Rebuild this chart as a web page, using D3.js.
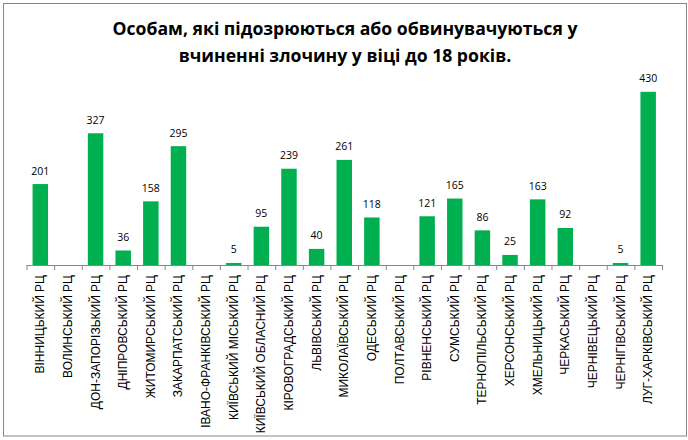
<!DOCTYPE html>
<html>
<head>
<meta charset="utf-8">
<script src="https://cdn.jsdelivr.net/npm/d3@7"></script>
<style>
  body { margin: 0; background: #fff; }
  svg { display: block; }
  .cat text { font-family: "Liberation Sans", Arial, sans-serif; }
</style>
</head>
<body>
<script>
const categories = [
  "ВІННИЦЬКИЙ РЦ", "ВОЛИНСЬКИЙ РЦ", "ДОН-ЗАПОРІЗЬКИЙ РЦ", "ДНІПРОВСЬКИЙ РЦ",
  "ЖИТОМИРСЬКИЙ РЦ", "ЗАКАРПАТСЬКИЙ РЦ", "ІВАНО-ФРАНКІВСЬКИЙ РЦ", "КИЇВСЬКИЙ МІСЬКИЙ РЦ",
  "КИЇВСЬКИЙ ОБЛАСНИЙ РЦ", "КІРОВОГРАДСЬКИЙ РЦ", "ЛЬВІВСЬКИЙ РЦ", "МИКОЛАЇВСЬКИЙ РЦ",
  "ОДЕСЬКИЙ РЦ", "ПОЛТАВСЬКИЙ РЦ", "РІВНЕНСЬКИЙ РЦ", "СУМСЬКИЙ РЦ",
  "ТЕРНОПІЛЬСЬКИЙ РЦ", "ХЕРСОНСЬКИЙ РЦ", "ХМЕЛЬНИЦЬКИЙ РЦ", "ЧЕРКАСЬКИЙ РЦ",
  "ЧЕРНІВЕЦЬКИЙ РЦ", "ЧЕРНІГІВСЬКИЙ РЦ", "ЛУГ-ХАРКІВСЬКИЙ РЦ"
];
const values = [201, 0, 327, 36, 158, 295, 0, 5, 95, 239, 40, 261, 118, 0, 121, 165, 86, 25, 163, 92, 0, 5, 430];
const titleLines = ["Особам, які підозрюються або обвинувачуються у", "вчиненні злочину у віці до 18 років."];

const W = 688, H = 440;
const svg = d3.select("body").append("svg").attr("width", W).attr("height", H);

// chart border
svg.append("rect")
  .attr("x", 3.5).attr("y", 3.5).attr("width", 683).attr("height", 432.5)
  .attr("fill", "#fff").attr("stroke", "#868686").attr("stroke-width", 1);

// title
const titleFont = "'Open Sans', 'Noto Sans', sans-serif";
const titleYs = [35, 62];
const t = svg.append("g");
titleLines.forEach((line, i) => {
  t.append("text")
    .attr("x", 345).attr("y", titleYs[i])
    .attr("text-anchor", "middle")
    .attr("font-family", titleFont)
    .attr("font-weight", "bold")
    .attr("font-size", 18)
    .attr("fill", "#000")
    .text(line);
});
{
  const first = t.select("text").node();
  const len = first.getComputedTextLength();
  const fs = 18 * 465 / len;
  t.selectAll("text").attr("font-size", fs);
}

const x0 = 26.5, x1 = 662, baseY = 265;
const x = d3.scaleBand().domain(categories).range([x0, x1]).paddingInner(0.44).paddingOuter(0.22);
const y = d3.scaleLinear().domain([0, 500]).range([baseY, baseY - 201.4]);

// bars
svg.append("g").selectAll("rect")
  .data(values)
  .join("rect")
  .attr("x", (d, i) => x(categories[i]))
  .attr("y", d => y(d))
  .attr("width", x.bandwidth())
  .attr("height", d => baseY - y(d))
  .attr("fill", "#00B050");

// value labels
svg.append("g").selectAll("text")
  .data(values.map((v, i) => ({v, c: categories[i]})).filter(d => d.v > 0))
  .join("text")
  .attr("x", d => x(d.c) + x.bandwidth() / 2)
  .attr("y", d => y(d.v) - 9.5)
  .attr("text-anchor", "middle")
  .attr("font-family", "'Open Sans', sans-serif")
  .attr("font-size", 10.5)
  .attr("fill", "#000")
  .text(d => d.v);

// axis line with boundary tick marks
const idx = d3.scaleLinear().domain([0, categories.length]).range([x0, x1]);
const axisG = svg.append("g").attr("transform", `translate(0,${baseY})`)
  .call(d3.axisBottom(idx).tickValues(d3.range(categories.length + 1)).tickSize(5).tickSizeOuter(0).tickFormat(""));
axisG.select(".domain").attr("stroke", "#868686");
axisG.selectAll(".tick line").attr("stroke", "#868686");

// category labels
const labG = svg.append("g").attr("class", "cat").attr("transform", `translate(0,${baseY})`)
  .call(d3.axisBottom(x).tickSize(0).tickPadding(0));
labG.attr("font-size", 12);
labG.select(".domain").remove();
labG.selectAll(".tick text")
  .attr("fill", "#000")
  .attr("text-anchor", "end")
  .attr("dominant-baseline", "central")
  .attr("dy", null)
  .attr("y", 0)
  .attr("transform", "translate(0,10) rotate(-90)");
</script>
</body>
</html>
